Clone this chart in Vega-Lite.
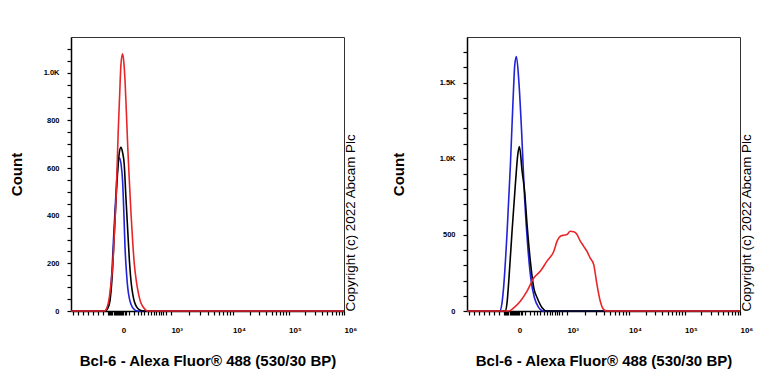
{
  "$schema": "https://vega.github.io/schema/vega-lite/v6.json",
  "padding": {"left": 8, "top": 36, "right": 5, "bottom": 5},
  "spacing": 32,
  "datasets": {
    "left": [
      {"sample": "Isotype control", "fl": 0, "count": 0},
      {"sample": "Isotype control", "fl": 12.3, "count": 0},
      {"sample": "Isotype control", "fl": 13.3, "count": 12},
      {"sample": "Isotype control", "fl": 14.1, "count": 45},
      {"sample": "Isotype control", "fl": 14.9, "count": 150},
      {"sample": "Isotype control", "fl": 15.7, "count": 330},
      {"sample": "Isotype control", "fl": 16.4, "count": 480},
      {"sample": "Isotype control", "fl": 17.0, "count": 590},
      {"sample": "Isotype control", "fl": 17.8, "count": 642},
      {"sample": "Isotype control", "fl": 18.4, "count": 610},
      {"sample": "Isotype control", "fl": 18.9, "count": 545},
      {"sample": "Isotype control", "fl": 19.4, "count": 400},
      {"sample": "Isotype control", "fl": 19.8, "count": 264},
      {"sample": "Isotype control", "fl": 20.3, "count": 165},
      {"sample": "Isotype control", "fl": 20.8, "count": 96},
      {"sample": "Isotype control", "fl": 21.4, "count": 52},
      {"sample": "Isotype control", "fl": 22.0, "count": 27},
      {"sample": "Isotype control", "fl": 23.2, "count": 6},
      {"sample": "Isotype control", "fl": 24.4, "count": 0},
      {"sample": "Isotype control", "fl": 100, "count": 0},
      {"sample": "Unlabelled control", "fl": 0, "count": 0},
      {"sample": "Unlabelled control", "fl": 12.5, "count": 0},
      {"sample": "Unlabelled control", "fl": 13.5, "count": 12},
      {"sample": "Unlabelled control", "fl": 14.3, "count": 45},
      {"sample": "Unlabelled control", "fl": 15.1, "count": 150},
      {"sample": "Unlabelled control", "fl": 15.9, "count": 334},
      {"sample": "Unlabelled control", "fl": 16.5, "count": 470},
      {"sample": "Unlabelled control", "fl": 17.1, "count": 587},
      {"sample": "Unlabelled control", "fl": 17.7, "count": 665},
      {"sample": "Unlabelled control", "fl": 18.3, "count": 687},
      {"sample": "Unlabelled control", "fl": 18.9, "count": 665},
      {"sample": "Unlabelled control", "fl": 19.5, "count": 615},
      {"sample": "Unlabelled control", "fl": 20.1, "count": 480},
      {"sample": "Unlabelled control", "fl": 20.8, "count": 334},
      {"sample": "Unlabelled control", "fl": 21.4, "count": 210},
      {"sample": "Unlabelled control", "fl": 22.0, "count": 124},
      {"sample": "Unlabelled control", "fl": 22.6, "count": 72},
      {"sample": "Unlabelled control", "fl": 23.2, "count": 40},
      {"sample": "Unlabelled control", "fl": 24.1, "count": 16},
      {"sample": "Unlabelled control", "fl": 25.0, "count": 6},
      {"sample": "Unlabelled control", "fl": 26.8, "count": 0},
      {"sample": "Unlabelled control", "fl": 100, "count": 0},
      {"sample": "Bcl-6 antibody", "fl": 0, "count": 0},
      {"sample": "Bcl-6 antibody", "fl": 12.2, "count": 0},
      {"sample": "Bcl-6 antibody", "fl": 13.2, "count": 15},
      {"sample": "Bcl-6 antibody", "fl": 14.0, "count": 54},
      {"sample": "Bcl-6 antibody", "fl": 14.7, "count": 120},
      {"sample": "Bcl-6 antibody", "fl": 15.3, "count": 196},
      {"sample": "Bcl-6 antibody", "fl": 15.9, "count": 330},
      {"sample": "Bcl-6 antibody", "fl": 16.5, "count": 474},
      {"sample": "Bcl-6 antibody", "fl": 16.9, "count": 610},
      {"sample": "Bcl-6 antibody", "fl": 17.3, "count": 755},
      {"sample": "Bcl-6 antibody", "fl": 17.8, "count": 900},
      {"sample": "Bcl-6 antibody", "fl": 18.3, "count": 1035},
      {"sample": "Bcl-6 antibody", "fl": 18.9, "count": 1079},
      {"sample": "Bcl-6 antibody", "fl": 19.3, "count": 1050},
      {"sample": "Bcl-6 antibody", "fl": 19.8, "count": 965},
      {"sample": "Bcl-6 antibody", "fl": 20.3, "count": 830},
      {"sample": "Bcl-6 antibody", "fl": 20.8, "count": 685},
      {"sample": "Bcl-6 antibody", "fl": 21.4, "count": 540},
      {"sample": "Bcl-6 antibody", "fl": 22.0, "count": 406},
      {"sample": "Bcl-6 antibody", "fl": 22.6, "count": 290},
      {"sample": "Bcl-6 antibody", "fl": 23.2, "count": 196},
      {"sample": "Bcl-6 antibody", "fl": 24.0, "count": 120},
      {"sample": "Bcl-6 antibody", "fl": 24.8, "count": 69},
      {"sample": "Bcl-6 antibody", "fl": 25.5, "count": 38},
      {"sample": "Bcl-6 antibody", "fl": 26.3, "count": 19},
      {"sample": "Bcl-6 antibody", "fl": 27.2, "count": 6},
      {"sample": "Bcl-6 antibody", "fl": 28.1, "count": 0},
      {"sample": "Bcl-6 antibody", "fl": 100, "count": 0}
    ],
    "right": [
      {"sample": "Isotype control", "fl": 0, "count": 0},
      {"sample": "Isotype control", "fl": 12.0, "count": 0},
      {"sample": "Isotype control", "fl": 12.8, "count": 50},
      {"sample": "Isotype control", "fl": 13.5, "count": 175},
      {"sample": "Isotype control", "fl": 14.7, "count": 524},
      {"sample": "Isotype control", "fl": 15.9, "count": 961},
      {"sample": "Isotype control", "fl": 16.9, "count": 1398},
      {"sample": "Isotype control", "fl": 17.5, "count": 1617},
      {"sample": "Isotype control", "fl": 18.1, "count": 1671},
      {"sample": "Isotype control", "fl": 19.0, "count": 1507},
      {"sample": "Isotype control", "fl": 20.0, "count": 1180},
      {"sample": "Isotype control", "fl": 21.1, "count": 742},
      {"sample": "Isotype control", "fl": 22.3, "count": 415},
      {"sample": "Isotype control", "fl": 23.5, "count": 197},
      {"sample": "Isotype control", "fl": 24.7, "count": 87},
      {"sample": "Isotype control", "fl": 26.3, "count": 22},
      {"sample": "Isotype control", "fl": 27.8, "count": 0},
      {"sample": "Isotype control", "fl": 100, "count": 0},
      {"sample": "Unlabelled control", "fl": 0, "count": 0},
      {"sample": "Unlabelled control", "fl": 14.1, "count": 0},
      {"sample": "Unlabelled control", "fl": 14.7, "count": 60},
      {"sample": "Unlabelled control", "fl": 15.3, "count": 197},
      {"sample": "Unlabelled control", "fl": 16.5, "count": 524},
      {"sample": "Unlabelled control", "fl": 17.8, "count": 852},
      {"sample": "Unlabelled control", "fl": 18.6, "count": 1027},
      {"sample": "Unlabelled control", "fl": 19.2, "count": 1081},
      {"sample": "Unlabelled control", "fl": 20.2, "count": 917},
      {"sample": "Unlabelled control", "fl": 21.1, "count": 786},
      {"sample": "Unlabelled control", "fl": 22.0, "count": 568},
      {"sample": "Unlabelled control", "fl": 23.2, "count": 328},
      {"sample": "Unlabelled control", "fl": 24.5, "count": 149},
      {"sample": "Unlabelled control", "fl": 25.7, "count": 87},
      {"sample": "Unlabelled control", "fl": 27.5, "count": 22},
      {"sample": "Unlabelled control", "fl": 29.3, "count": 0},
      {"sample": "Unlabelled control", "fl": 100, "count": 0},
      {"sample": "Bcl-6 antibody", "fl": 0, "count": 0},
      {"sample": "Bcl-6 antibody", "fl": 15.3, "count": 0},
      {"sample": "Bcl-6 antibody", "fl": 17.2, "count": 22},
      {"sample": "Bcl-6 antibody", "fl": 19.6, "count": 66},
      {"sample": "Bcl-6 antibody", "fl": 22.0, "count": 131},
      {"sample": "Bcl-6 antibody", "fl": 24.5, "count": 218},
      {"sample": "Bcl-6 antibody", "fl": 26.9, "count": 262},
      {"sample": "Bcl-6 antibody", "fl": 29.3, "count": 328},
      {"sample": "Bcl-6 antibody", "fl": 31.8, "count": 393},
      {"sample": "Bcl-6 antibody", "fl": 33.0, "count": 459},
      {"sample": "Bcl-6 antibody", "fl": 34.2, "count": 491},
      {"sample": "Bcl-6 antibody", "fl": 35.4, "count": 498},
      {"sample": "Bcl-6 antibody", "fl": 36.6, "count": 502},
      {"sample": "Bcl-6 antibody", "fl": 37.8, "count": 524},
      {"sample": "Bcl-6 antibody", "fl": 39.1, "count": 520},
      {"sample": "Bcl-6 antibody", "fl": 40.3, "count": 502},
      {"sample": "Bcl-6 antibody", "fl": 41.5, "count": 459},
      {"sample": "Bcl-6 antibody", "fl": 42.7, "count": 426},
      {"sample": "Bcl-6 antibody", "fl": 43.9, "count": 393},
      {"sample": "Bcl-6 antibody", "fl": 45.1, "count": 349},
      {"sample": "Bcl-6 antibody", "fl": 46.4, "count": 306},
      {"sample": "Bcl-6 antibody", "fl": 47.6, "count": 175},
      {"sample": "Bcl-6 antibody", "fl": 48.8, "count": 66},
      {"sample": "Bcl-6 antibody", "fl": 50.0, "count": 11},
      {"sample": "Bcl-6 antibody", "fl": 51.2, "count": 0},
      {"sample": "Bcl-6 antibody", "fl": 100, "count": 0}
    ]
  },
  "hconcat": [
    {
      "width": 273,
      "height": 274,
      "view": {"stroke": "#333", "strokeWidth": 1},
      "data": {"name": "left"},
      "layer": [
        {
          "mark": {"type": "line", "strokeWidth": 1.6, "interpolate": "monotone"},
          "encoding": {
            "x": {
              "field": "fl", "type": "quantitative",
              "scale": {"domain": [0, 100], "nice": false, "zero": false},
              "axis": {
                "grid": false,
                "values": [0.84, 2.67, 4.5, 6.3, 8.15, 10, 11.8, 13.6, 14.0, 14.4, 14.8, 15.2, 15.6, 16.0, 16.4, 16.8, 17.2, 17.6, 18.0, 18.4, 18.8, 19.2, 19.6, 20.0, 21.4, 23.0, 24.4, 25.6, 26.9, 28.1, 29.3, 30.3, 31.1, 32.1, 33.0, 33.8, 34.8, 36.6, 43.4, 47.4, 50.2, 52.4, 54.2, 55.7, 57.0, 58.2, 59.2, 65.4, 69.0, 71.5, 73.5, 75.1, 76.5, 77.7, 78.8, 79.7, 85.8, 89.4, 91.9, 93.9, 95.5, 96.9, 98.0, 99.1, 100],
                "labelExpr": "datum.value == 18.4 ? '0' : datum.value == 36.6 ? '10³' : datum.value == 59.2 ? '10⁴' : datum.value == 79.7 ? '10⁵' : datum.value == 100 ? '10⁶' : ''",
                "labelAlign": "left",
                "domainColor": "#000", "domainWidth": 1.5,
                "ticks": true, "tickColor": "#000", "tickSize": 4, "tickWidth": 1.2,
                "labelFont": "Liberation Sans", "labelFontWeight": "bold", "labelFontSize": 8, "labelColor": "#000",
                "labelOverlap": false, "labelFlush": false, "labelPadding": 11,
                "title": "Bcl-6 - Alexa Fluor® 488 (530/30 BP)",
                "titleFont": "Liberation Sans", "titleFontWeight": "bold", "titleColor": "#000",
                "titleFontSize": 15, "titlePadding": 19
              }
            },
            "y": {
              "field": "count", "type": "quantitative",
              "scale": {"domain": [0, 1150], "nice": false},
              "axis": {
                "grid": false,
                "values": [0, 50, 100, 150, 200, 250, 300, 350, 400, 450, 500, 550, 600, 650, 700, 750, 800, 850, 900, 950, 1000, 1050, 1100],
                "labelExpr": "datum.value == 1000 ? '1.0K' : (datum.value % 200 == 0 ? datum.value + '' : '')",
                "domainColor": "#000", "domainWidth": 1.5,
                "ticks": true, "tickColor": "#000", "tickSize": 4, "tickWidth": 1.2,
                "labelFont": "Liberation Sans", "labelFontWeight": "bold", "labelFontSize": 7.5, "labelColor": "#000",
                "labelOverlap": false, "labelFlush": false, "labelPadding": 8,
                "title": "Count", "titleFont": "Liberation Sans", "titleFontWeight": "bold", "titleColor": "#000",
                "titleFontSize": 15, "titlePadding": 19
              }
            },
            "color": {
              "field": "sample", "type": "nominal",
              "scale": {"domain": ["Isotype control", "Unlabelled control", "Bcl-6 antibody"], "range": ["#2222d8", "#000000", "#e8262a"]},
              "legend": null
            }
          }
        },
        {
          "mark": {"type": "line", "opacity": 0},
          "encoding": {
            "x": {"field": "fl", "type": "quantitative", "axis": null},
            "y": {
              "field": "count", "type": "quantitative",
              "axis": {"orient": "right", "grid": false, "title": "Copyright (c) 2022 Abcam Plc", "labels": false, "ticks": false, "domain": false, "titleFont": "Liberation Sans", "titleColor": "#000", "titleFontWeight": "normal", "titleFontSize": 13.4, "titleAngle": 270, "titleAnchor": "start", "titlePadding": 13}
            }
          }
        }
      ],
      "resolve": {"axis": {"x": "independent", "y": "independent"}}
    },
    {
      "width": 273,
      "height": 274,
      "view": {"stroke": "#333", "strokeWidth": 1},
      "data": {"name": "right"},
      "layer": [
        {
          "mark": {"type": "line", "strokeWidth": 1.6, "interpolate": "monotone"},
          "encoding": {
            "x": {
              "field": "fl", "type": "quantitative",
              "scale": {"domain": [0, 100], "nice": false, "zero": false},
              "axis": {
                "grid": false,
                "values": [0.84, 2.67, 4.5, 6.3, 8.15, 10, 11.8, 13.6, 14.0, 14.4, 14.8, 15.2, 15.6, 16.0, 16.4, 16.8, 17.2, 17.6, 18.0, 18.4, 18.8, 19.2, 19.6, 20.0, 21.4, 23.0, 24.4, 25.6, 26.9, 28.1, 29.3, 30.3, 31.1, 32.1, 33.0, 33.8, 34.8, 36.6, 43.4, 47.4, 50.2, 52.4, 54.2, 55.7, 57.0, 58.2, 59.2, 65.4, 69.0, 71.5, 73.5, 75.1, 76.5, 77.7, 78.8, 79.7, 85.8, 89.4, 91.9, 93.9, 95.5, 96.9, 98.0, 99.1, 100],
                "labelExpr": "datum.value == 18.4 ? '0' : datum.value == 36.6 ? '10³' : datum.value == 59.2 ? '10⁴' : datum.value == 79.7 ? '10⁵' : datum.value == 100 ? '10⁶' : ''",
                "labelAlign": "left",
                "domainColor": "#000", "domainWidth": 1.5,
                "ticks": true, "tickColor": "#000", "tickSize": 4, "tickWidth": 1.2,
                "labelFont": "Liberation Sans", "labelFontWeight": "bold", "labelFontSize": 8, "labelColor": "#000",
                "labelOverlap": false, "labelFlush": false, "labelPadding": 11,
                "title": "Bcl-6 - Alexa Fluor® 488 (530/30 BP)",
                "titleFont": "Liberation Sans", "titleFontWeight": "bold", "titleColor": "#000",
                "titleFontSize": 15, "titlePadding": 19
              }
            },
            "y": {
              "field": "count", "type": "quantitative",
              "scale": {"domain": [0, 1800], "nice": false},
              "axis": {
                "grid": false,
                "values": [0, 100, 200, 300, 400, 500, 600, 700, 800, 900, 1000, 1100, 1200, 1300, 1400, 1500, 1600, 1700],
                "labelExpr": "datum.value == 1000 ? '1.0K' : datum.value == 1500 ? '1.5K' : datum.value == 500 ? '500' : datum.value == 0 ? '0' : ''",
                "domainColor": "#000", "domainWidth": 1.5,
                "ticks": true, "tickColor": "#000", "tickSize": 4, "tickWidth": 1.2,
                "labelFont": "Liberation Sans", "labelFontWeight": "bold", "labelFontSize": 7.5, "labelColor": "#000",
                "labelOverlap": false, "labelFlush": false, "labelPadding": 8,
                "title": "Count", "titleFont": "Liberation Sans", "titleFontWeight": "bold", "titleColor": "#000",
                "titleFontSize": 15, "titlePadding": 33
              }
            },
            "color": {
              "field": "sample", "type": "nominal",
              "scale": {"domain": ["Isotype control", "Unlabelled control", "Bcl-6 antibody"], "range": ["#2222d8", "#000000", "#e8262a"]},
              "legend": null
            }
          }
        },
        {
          "mark": {"type": "line", "opacity": 0},
          "encoding": {
            "x": {"field": "fl", "type": "quantitative", "axis": null},
            "y": {
              "field": "count", "type": "quantitative",
              "axis": {"orient": "right", "grid": false, "title": "Copyright (c) 2022 Abcam Plc", "labels": false, "ticks": false, "domain": false, "titleFont": "Liberation Sans", "titleColor": "#000", "titleFontWeight": "normal", "titleFontSize": 13.4, "titleAngle": 270, "titleAnchor": "start", "titlePadding": 13}
            }
          }
        }
      ],
      "resolve": {"axis": {"x": "independent", "y": "independent"}}
    }
  ]
}
